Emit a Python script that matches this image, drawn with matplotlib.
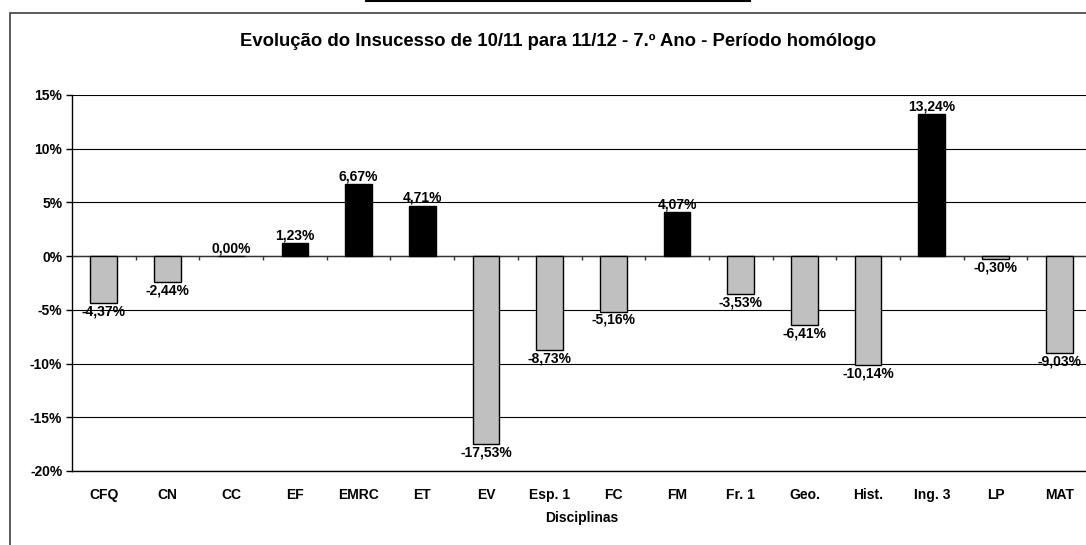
# -*- coding: utf-8 -*-
"""
Evolução do Insucesso de 10/11 para 11/12 - 7.º Ano
Gráfico de barras por disciplina (variação em pontos percentuais).
"""

import numpy as np
import matplotlib
matplotlib.use("Agg")
import matplotlib.pyplot as plt
from matplotlib.lines import Line2D
from matplotlib.patches import Rectangle
from matplotlib.ticker import FuncFormatter, MultipleLocator

plt.rcParams['font.family'] = ['Liberation Sans', 'DejaVu Sans']
plt.rcParams['font.weight'] = 'bold'

# dados
disciplinas = ['CFQ', 'CN', 'CC', 'EF', 'EMRC', 'ET', 'EV', 'Esp. 1', 'FC',
               'FM', 'Fr. 1', 'Geo.', 'Hist.', 'Ing. 3', 'LP', 'MAT']
variacao = [-4.37, -2.44, 0.00, 1.23, 6.67, 4.71, -17.53, -8.73, -5.16,
            4.07, -3.53, -6.41, -10.14, 13.24, -0.30, -9.03]

titulo = 'Evolução do Insucesso de 10/11 para 11/12 - 7.º Ano - Período homólogo'
eixo_x = 'Disciplinas'

FS = 10  # tamanho das letras pequenas

W, H = 1086, 545
fig = plt.figure(figsize=(W / 100, H / 100), dpi=100)

# moldura exterior (só aparecem os lados esquerdo e superior)
fig.patches.append(Rectangle((10 / W, -0.05), 1.2, 1 - 13 / H + 0.05,
                             transform=fig.transFigure, fill=False,
                             edgecolor='#404040', linewidth=1.2))
# traço no topo
fig.lines.append(Line2D([366 / W, 750 / W], [1 - 1 / H, 1 - 1 / H],
                        transform=fig.transFigure, color='black', linewidth=1.5))

ax = fig.add_axes([72 / W, (H - 471) / H, 1019 / W, (471 - 95) / H])

x = np.arange(len(disciplinas))
cores = ['black' if v > 0 else '#C0C0C0' for v in variacao]
ax.bar(x, variacao, width=0.42, color=cores, edgecolor='black',
       linewidth=1.0, zorder=3)

# rótulos de valores
for xi, v in zip(x, variacao):
    txt = f'{v:.2f}%'.replace('.', ',')
    if v >= 0:
        ax.annotate(txt, (xi, v), xytext=(0, 0.5), textcoords='offset points',
                    ha='center', va='bottom', fontsize=FS, fontweight='bold',
                    zorder=4)
    else:
        ax.annotate(txt, (xi, v), xytext=(0, -1), textcoords='offset points',
                    ha='center', va='top', fontsize=FS, fontweight='bold',
                    zorder=4)

ax.set_xlim(-0.5, len(disciplinas) - 0.5)
ax.set_ylim(-20, 15)
ax.yaxis.set_major_locator(MultipleLocator(5))
ax.yaxis.set_major_formatter(FuncFormatter(lambda v, p: f'{v:.0f}%'))

# grelha horizontal
ax.grid(axis='y', color='black', linewidth=0.8, zorder=0)
ax.set_axisbelow(True)

# linha do zero com marcas entre categorias
ax.axhline(0, color='#333333', linewidth=1.0, zorder=2)
limites = np.arange(len(disciplinas) + 1) - 0.5
ax.vlines(limites[1:-1], -0.4, 0, color='#333333', linewidth=1.0, zorder=2)

ax.set_xticks(x)
ax.set_xticklabels(disciplinas, fontsize=FS, fontweight='bold')
ax.tick_params(axis='x', length=0, pad=12)
ax.tick_params(axis='y', direction='out', length=4, width=1,
               labelsize=FS, pad=3)
for lbl in ax.get_yticklabels():
    lbl.set_fontweight('bold')

for s in ['top', 'right']:
    ax.spines[s].set_visible(False)
ax.spines['left'].set_linewidth(1.0)
ax.spines['bottom'].set_linewidth(1.0)

ax.set_xlabel(eixo_x, fontsize=FS, fontweight='bold', labelpad=7)

fig.text(558 / W, 1 - 41 / H, titulo, ha='center', va='center',
         fontsize=13.3, fontweight='bold')

fig.savefig('out.png', dpi=100)
